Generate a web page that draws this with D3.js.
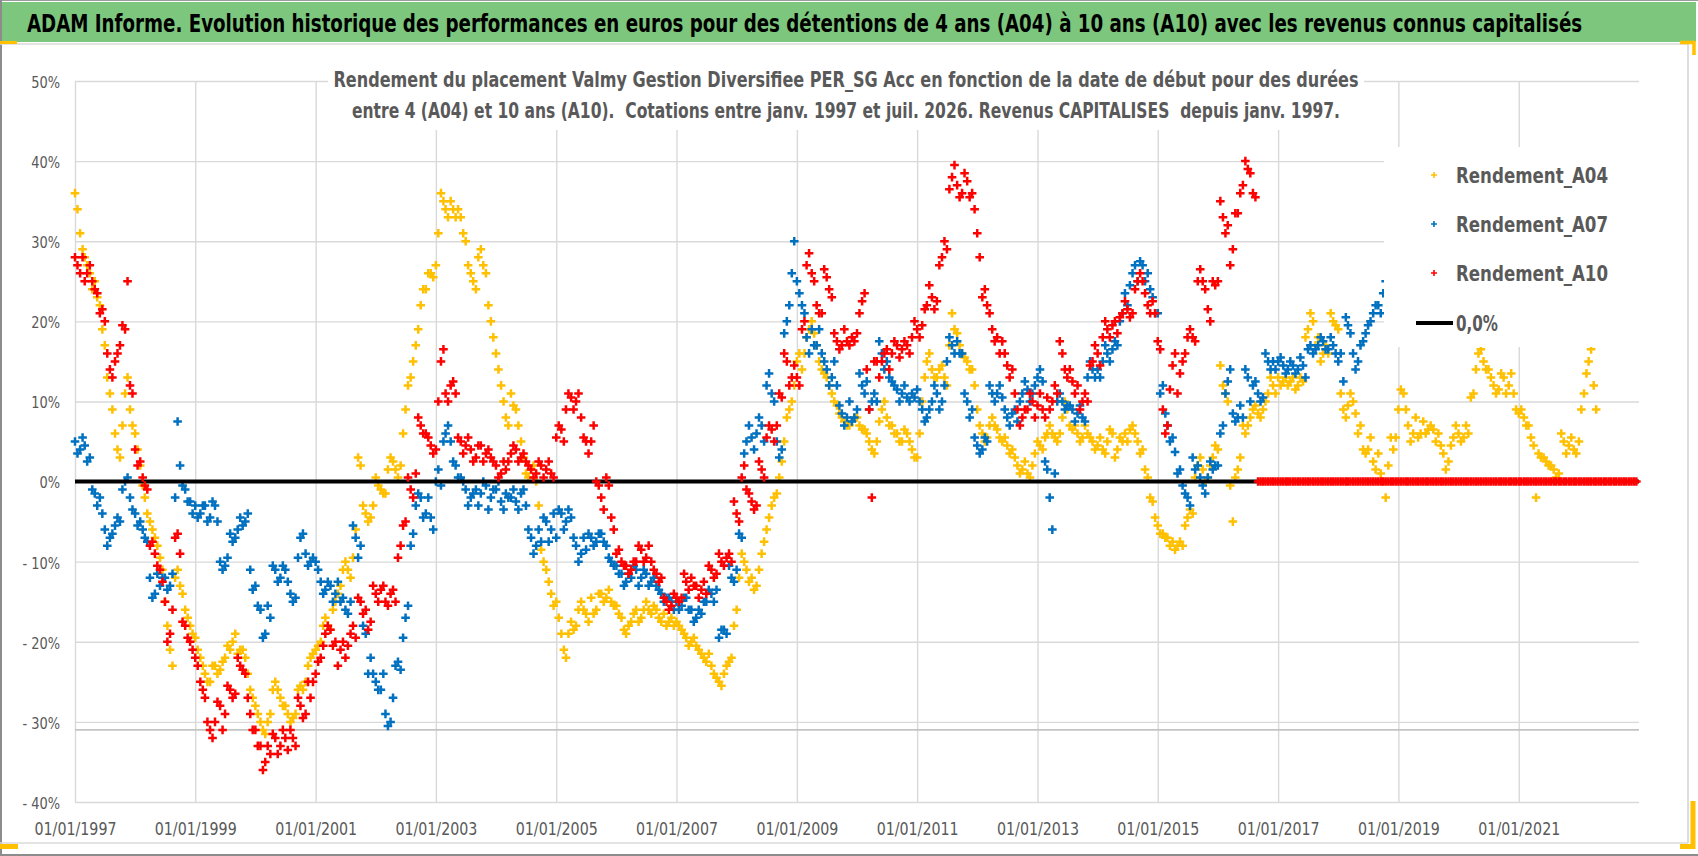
<!DOCTYPE html>
<html><head><meta charset="utf-8">
<script src="https://cdn.jsdelivr.net/npm/d3@7"></script>
<style>
body{margin:0;background:#fff}
svg{display:block}
text{font-family:"Liberation Sans Narrow","DejaVu Sans Condensed","Liberation Sans",Arial,sans-serif}
</style>
</head><body>
<svg id="chart" width="1698" height="856"></svg>
<script>
// ---------------- texts ----------------
const titleText = "ADAM Informe. Evolution historique des performances en euros pour des détentions de 4 ans (A04) à 10 ans (A10) avec les revenus connus capitalisés";
const subtitleLines = [
  "Rendement du placement Valmy Gestion Diversifiee PER_SG Acc en fonction de la date de début pour des durées",
  "entre 4 (A04) et 10 ans (A10).  Cotations entre janv. 1997 et juil. 2026. Revenus CAPITALISES  depuis janv. 1997."
];
const seriesNames = ["Rendement_A04", "Rendement_A07", "Rendement_A10"];
const zeroLabel = "0,0%";

// ---------------- data (values in %, one row per year, first = Jan 1997) ----------------
// *_start : observations at the start of each month ; *_mid : observations at mid-month
const firstYear = 1997;
const A04_start = [
  36, 31, 28, 26, 25, 22, 17, 11, 6, 3, 11, 9,
  6, 2, -2, -5, -7, -9.5, -15, -21, -12, -13, -16, -18,
  -19.5, -22, -24, -25, -23, -23.5, -22, -21, -19, -21, -22, -26,
  -28, -30, -31.5, -29, -25, -27, -28, -30, -29, -25.5, -25, -22,
  -21, -20, -17, -18.5, -15, -13, -10, -12, -6, 2, -4, -4.5,
  0.5, -1, -1.5, 3, 1.5, 2, 9, 13, 17, 22, 24, 26,
  27, 36, 34, 35, 33, 33, 30, 26, 24, 29, 26, 20,
  16, 12, 8, 11, 9, 5, 1, 1.5, 0, -8.5, -11, -14,
  -15, -19, -22, -17.5, -18, -15, -16.5, -14.5, -16, -14, -14.5, -15,
  -15.5, -17, -19, -17.5, -16, -17, -15, -16.5, -16, -17.5, -18, -17,
  -17.5, -18.5, -19.5, -20, -20.5, -21.5, -22.5, -23, -24.5, -25.5, -23, -22,
  -16, -9, -11, -12, -13, -9, -6, -3, -1.5, 2.5, 8, 10,
  15, 14, 18, 20, 17, 14, 13, 11, 9.5, 8, 7, 7.5,
  8, 6.5, 6, 4, 5, 9, 8, 7, 6, 5, 6, 4,
  3, 10, 15, 14, 13, 14.5, 12, 21, 18.5, 16, 15, 14,
  9, 6, 5.5, 8, 6.5, 5, 4.5, 4, 2, 1.5, 1, 2,
  5, 4, 6, 6, 5, 8, 9, 6.5, 6, 5.5, 6, 5,
  4.5, 4, 5, 6, 4, 5, 5, 7, 5, 4, 0.5, -2.5,
  -5.5, -6.5, -7, -7.5, -8, -8, -4.5, -4, 2, 1.5, 0.5, 3,
  4, 12, 10, -5, 1.5, 7, 7, 9, 8.5, 9, 11, 12,
  13, 12.5, 12, 13, 12, 12.5, 19, 20, 18, 16, 16, 20,
  19, 9, 9.5, 10, 6, 4, 4, 2.5, 3.5, 0, 2, 4,
  9, 11, 7, 6, 5.5, 7.5, 6.5, 6.5, 6, 3.5, 2.5, 5.5,
  6, 5.5, 6, 11, 16, 15, 14, 12, 11.5, 13, 12, 11,
  8.5, 8, 7, 4.5, 3.5, 3, 2, 1.5, 1, 5, 4.5, 4,
  5, 11, 15, 12
];
const A04_mid = [
  34, 29, 27, 24, 23, 19, 13, 9, 4, 7, 13, 7,
  4, -0.5, -4, -6, -8, -11, -18, -23, -11, -14, -17, -19,
  -21, -23, -25, -23, -24, -22.5, -20.5, -20, -21.5, -21, -24, -27,
  -29, -31, -30, -26, -26, -28, -29, -29.5, -26, -26, -23, -21.5,
  -20.5, -18, -18, -16, -14, -11, -11, -9.5, 3, -3, -5, -3,
  -0.5, -1.5, 1.5, 2.5, 0.5, 6, 12, 15, 19, 24, 26, 25.5,
  31, 35, 33, 34, 34, 31, 27, 25, 28, 27, 22, 18,
  14, 10, 7, 9.5, 7, 3, 0.5, 2, -3, -10, -12.5, -15.5,
  -17, -21, -19, -18.5, -16, -16, -17.5, -16.5, -14, -15, -13.5, -15.5,
  -16.5, -18.5, -18, -16.5, -17.5, -16, -16, -15.5, -17, -16.5, -17.5, -18,
  -18, -19, -20.5, -19.5, -21, -22, -21.5, -24, -25, -24, -22.5, -18,
  -12, -10, -12.5, -13.5, -11, -7.5, -4.5, -2, 0.5, 5, 9, 12,
  16, 16, 19, 18.5, 15, 13.5, 12, 10, 8.5, 7.5, 7, 8,
  7, 6.5, 5, 3.5, 7.5, 10, 7, 6, 5, 6.5, 5, 3,
  6, 13, 16, 13, 14, 13, 17, 19, 17, 15.5, 14, 12,
  7, 5, 7, 7, 5.5, 5.5, 3.5, 3, 1, 2.5, 0.5, 3.5,
  4.5, 5.5, 7, 5.5, 6, 10, 7, 7, 5, 7, 5.5, 4,
  5.5, 3.5, 6.5, 3, 5.5, 6, 6.5, 6, 3.5, 1.5, -2, -4.5,
  -6.5, -7, -8, -8.5, -7.5, -5.5, -3.5, 0.5, 3, 0, 2, 4.5,
  14.5, 11, -0.5, 0.5, 3, 6, 8, 9.5, 8, 10, 13, 11,
  12, 13, 12.5, 11.5, 13, 18, 21, 17, 15, 17, 21, 19.5,
  11, 8, 11, 8.5, 7, 3.5, 5.5, 1.5, 1, -2, 5.5, 5.5,
  11.5, 9, 5, 8, 6, 6, 7, 5, 4.5, 1.5, 4.5, 7,
  5, 7, 10.5, 14, 16.5, 14, 13, 11, 13.5, 11, 13.5, 9,
  9, 7, 5.5, -2, 3, 2.5, 2, 0.5, 6, 3.5, 5.5, 3.5,
  9, 13.5, 16.5, 9
];
const A07_start = [
  5, 4, 4.5, 3, -1.5, -2, -6, -7, -5.5, -5, 0, -2,
  -4, -5, -7, -12, -14, -13, -12, -13, -2, 2, -1, -2.5,
  -3, -4, -3, -4.5, -3, -10, -10.5, -6.5, -7, -4.5, -5, -11,
  -13, -16, -19, -17, -11, -12, -11, -14, -14.5, -7, -9, -10,
  -10, -12.5, -13.5, -13, -14, -15, -16, -15, -7, -8, -19, -22,
  -25, -26, -29, -30, -23, -23.5, -17, -8, -3, -2, -4, -4.5,
  0, -0.5, 6, 5, 2, 0.5, -1, -2, -1, -1.5, -0.5, -2,
  -1, -2.5, -1.5, -2, -2.5, -1.5, -3, -7, -8, -7.5, -5, -6,
  -7, -4, -5, -4.5, -8, -9, -8.5, -7, -7.5, -6.5, -8, -10,
  -10.5, -11.5, -12.5, -12, -11, -12, -11.5, -12.5, -13, -14, -14.5, -15,
  -15, -15.5, -14.5, -16, -17, -16.5, -15, -14, -13.5, -18.5, -19, -12,
  -11, -7, 5, 5.5, 6, 7, 12, 11, 5, 4, 20, 26,
  25, 22, 18, 19, 17, 16, 14, 13, 12, 8.5, 8, 7.5,
  9, 12, 12.5, 10, 10, 16, 15, 12.5, 11.5, 11, 10.5, 11,
  11.5, 9, 8, 10, 11, 10, 15, 17, 17.5, 16, 10, 9,
  4.5, 4, 5, 11, 11, 10.5, 8, 8.5, 7.5, 11, 11.5, 11,
  13, 12.5, 1.5, -6, 10, 10, 9.5, 9, 8.5, 8, 13, 14,
  14, 15, 16, 16.5, 17, 21, 22, 26, 25, 27, 26, 23,
  21, 12, 7, 5.5, 1, -0.5, -2, 3, 2, -0.5, 0.5, 1.5,
  2, 7, 12.5, 8.5, 8, 8, 13, 12, 11, 10.5, 15, 15,
  15, 14.5, 14, 14.5, 14, 14.5, 16.5, 16, 17, 17.5, 16.5, 17,
  15, 12.5, 19.5, 16, 15, 17.5, 19.5, 21, 22, 23.5, 27
];
const A07_mid = [
  3.5, 5.5, 2.5, -1, -3, -4, -8, -6.5, -4.5, -1, 0.5, -3.5,
  -5.5, -6, -7.5, -14.5, -11.5, -12, -13.5, -11.5, 7.5, -0.5, -2.5, -4,
  -4.5, -3, -5, -2.5, -5, -11, -9.5, -7.5, -6, -5.5, -4, -13.5,
  -15.5, -19.5, -15.5, -10.5, -12.5, -10.5, -12.5, -15, -9.5, -6.5, -10.5, -9.5,
  -11, -14, -12.5, -15, -12.5, -14.5, -16.5, -5.5, -9.5, -18, -24, -24,
  -26, -24, -30.5, -27, -22.5, -19.5, -15.5, -6.5, -1.5, -4.5, -2, -6,
  1.5, 5, 7, 2.5, 0.5, 0, -3, -1.5, -3, 0, -3.5, -1,
  0, -3.5, -2, -1, -3.5, -1, -6, -9, -6, -4.5, -7.5, -4,
  -3.5, -6, -3.5, -7, -10, -7, -6.5, -8, -6.5, -7.5, -9.5, -10.5,
  -11.5, -13, -11.5, -10.5, -13, -11, -13, -12, -13.5, -15, -14.5, -16,
  -16, -14.5, -16, -17.5, -16, -15, -13.5, -15, -19.5, -18.5, -10.5, -12.5,
  -6.5, 3.5, 7, 4, 8, 5, 13.5, 10, 3, 18.5, 22, 30,
  23.5, 21, 16, 17, 19, 15, 12, 15, 9.5, 7, 10, 8,
  13.5, 11, 9, 11, 17.5, 14, 13, 12, 10, 12, 10, 10.5,
  10, 7.5, 9, 12, 9, 12, 18, 16, 16, 11, 8, 5.5,
  3.5, 5.5, 12, 10, 12, 9, 7, 9, 10, 12.5, 10, 12,
  14, 2.5, -2, 1, 11, 9, 9.5, 7.5, 9.5, 7.5, 15, 13,
  13, 17, 15, 17.5, 20, 23.5, 24.5, 27, 27.5, 25, 24, 21,
  11, 8.5, 5, 3.7, 1.5, -1.5, -3, 1.5, 0.5, -1.5, 2.5, 2,
  6, 11, 14, 7.5, 9.5, 14, 10, 12.5, 10, 16, 14, 14,
  15.5, 13.5, 15, 13.5, 15.5, 13, 17, 16.5, 18, 16.5, 18, 16,
  16, 20.5, 18.5, 14, 17, 18.5, 20, 22, 21, 25
];
const A10_start = [
  28, 26, 25, 27, 24, 21, 20, 14, 15, 17, 19, 12,
  4, 2.5, -0.5, -8, -9, -11, -15, -19, -7, -9, -18, -20,
  -22, -25, -27, -31, -30, -28, -29, -26, -26.5, -23, -24, -29,
  -31, -33, -35, -34, -32, -33, -32, -31, -33, -28, -29, -27,
  -24, -22, -19, -18.5, -20, -21, -22, -19, -19.5, -15, -16, -17.5,
  -14, -13.5, -15, -14, -15, -8, -5, -1, 1, 7, 6, 4.5,
  4, 15, 11, 12, 11, 5, 4.5, 4, 3, 4.5, 3.5, 3,
  2, 1, 1.5, 3.5, 4, 3, 2.5, 1.5, 1, 2, 1.5, 1,
  5.5, 6.5, 9, 10.5, 10, 8, 5, 5, 0, -2, 0.5, -4.5,
  -9, -10, -10.5, -11, -10, -8.5, -9.5, -10, -11.5, -12, -15, -15.5,
  -14.5, -14.5, -12.5, -12, -13, -13.5, -14, -11, -11.5, -10, -9.5, -10,
  -4, 0.5, -1, -2.5, -3, 1.5, 5.5, 6.5, 7, 10.5, 15, 13,
  13, 19, 27, 26, 22, 21, 25.5, 23, 17.5, 17, 17.5, 18,
  18.5, 22.5, 14, -2, 15, 15, 16.5, 16, 17, 16.5, 17, 18,
  19, 19.5, 22, 23, 22.5, 28, 29, 38, 37, 36, 37.5, 36,
  31, 23, 22, 19, 18, 17.5, 14.5, 14, 9, 8, 9, 10,
  9.5, 9, 10.5, 10, 11, 16, 13, 12.5, 12, 10, 10, 15,
  16, 18, 19, 19.5, 18.5, 21, 21.5, 21, 25, 25, 22, 22.5,
  17.5, 9, 7, 14.5, 11, 15, 18, 18, 25, 25, 21.5, 25,
  25, 33, 32, 29, 33.5, 37, 39, 36, 0, 0, 0, 0,
  0, 0, 0, 0, 0, 0, 0, 0, 0, 0, 0, 0,
  0, 0, 0, 0, 0, 0, 0, 0, 0, 0, 0, 0,
  0, 0, 0, 0, 0, 0, 0, 0, 0, 0, 0, 0,
  0, 0, 0, 0, 0, 0, 0, 0, 0, 0, 0, 0,
  0, 0, 0, 0, 0, 0, 0, 0, 0, 0, 0, 0,
  0, 0, 0, 0, 0, 0, 0, 0, 0, 0, 0, 0
];
const A10_mid = [
  27, 28, 26, 25, 23.5, 21.5, 16, 13, 16, 19.5, 25, 11,
  2, 0.5, -1, -7.5, -10.5, -12.5, -20, -16, -6.5, -17.5, -19.5, -21,
  -23, -26, -30, -32, -27.5, -31, -25.5, -27, -22, -23.5, -27, -31,
  -33, -36, -33, -31.5, -34, -31, -33.5, -32, -27, -29.5, -25, -25,
  -22.5, -20.5, -18, -20.5, -23, -20, -20.5, -18, -14.5, -16.5, -18.5, -13,
  -15, -13, -15.5, -13.5, -9.5, -5.5, 0.5, -2, 8, 6, 5.5, 3.5,
  10, 16.5, 10, 12.5, 5.5, 3.5, 5.5, 2.5, 4.5, 2.5, 4, 2.5,
  0.5, 2.5, 2.5, 4.5, 2.5, 3.5, 2, 0.5, 2.5, 0.5, 2.5, 0.5,
  7, 5, 11, 9, 11, 5.5, 3.5, 7, -0.5, -3.5, -0.5, -6,
  -8.5, -10.5, -11.5, -10, -8, -10, -8, -11, -12.5, -14.5, -16, -14,
  -15, -11.5, -13.5, -13, -14.5, -12.5, -10.5, -12, -9, -10.5, -9, -2.5,
  -5, 2, -1.5, -3.5, 2.5, 0.5, 7, 5, 11, 16, 12, 14.5,
  12, 20, 28.5, 25, 21, 26.5, 24, 18.5, 16.5, 19, 17, 17.5,
  21, 23.5, 9, 15, 13, 16, 14, 17.5, 15.5, 17.5, 16, 20,
  18, 21.5, 24.5, 21.5, 27, 30, 36.5, 39.5, 35.5, 38.5, 35.5, 34,
  28, 24, 21, 17.5, 16, 16, 13, 11, 7, 9, 11, 8,
  11, 8, 9, 12, 17.5, 14, 14, 11, 9, 11, 14.5, 17,
  14.5, 20, 18, 20, 20.5, 22.5, 20.5, 24, 26, 23.5, 21, 21,
  16.5, 6, 11.5, 16, 13.5, 16, 19, 17.5, 26.5, 24, 20, 24.5,
  35, 31, 27, 33.5, 36, 40, 38.5, 35.5, 0, 0, 0, 0,
  0, 0, 0, 0, 0, 0, 0, 0, 0, 0, 0, 0,
  0, 0, 0, 0, 0, 0, 0, 0, 0, 0, 0, 0,
  0, 0, 0, 0, 0, 0, 0, 0, 0, 0, 0, 0,
  0, 0, 0, 0, 0, 0, 0, 0, 0, 0, 0, 0,
  0, 0, 0, 0, 0, 0, 0, 0, 0, 0, 0, 0,
  0, 0, 0, 0, 0, 0, 0, 0, 0, 0, 0, 0
];
const seriesColors = ["#FFC000", "#0070C0", "#FF0000"];

// axes
const xTickYears = [1997, 1999, 2001, 2003, 2005, 2007, 2009, 2011, 2013, 2015, 2017, 2019, 2021];
const xDomainYears = [1997, 2023];
const yTicks = [50, 40, 30, 20, 10, 0, -10, -20, -30, -40];
const yTickLabels = ["50%", "40%", "30%", "20%", "10%", "0%", "- 10%", "- 20%", "- 30%", "- 40%"];
const zeroValue = 0;
const refLineValue = -31;

// ---------------- drawing ----------------
const svg = d3.select("#chart");
const W = 1698, H = 856;
const plot = {left: 75, right: 1639, top: 81, bottom: 802};

const x = d3.scaleTime()
  .domain(xDomainYears.map(v => new Date(v, 0, 1)))
  .range([plot.left, plot.right]);
const y = d3.scaleLinear()
  .domain([d3.min(yTicks), d3.max(yTicks)])
  .range([plot.bottom, plot.top]);

function condense(sel, f) {
  sel.each(function () {
    const L = this.getComputedTextLength();
    d3.select(this).attr("textLength", L * f).attr("lengthAdjust", "spacingAndGlyphs");
  });
}
function fit(sel, w) {
  sel.attr("textLength", w).attr("lengthAdjust", "spacingAndGlyphs");
}

svg.append("rect").attr("width", W).attr("height", H).attr("fill", "#fff");

// gridlines
const gridY = svg.append("g").attr("transform", `translate(${plot.left},0)`)
  .call(d3.axisLeft(y).tickValues(yTicks).tickSize(-(plot.right - plot.left)).tickFormat(""));
gridY.select(".domain").remove();
gridY.selectAll("line").attr("stroke", "#D9D9D9").attr("stroke-width", 1.4);

const gridX = svg.append("g").attr("transform", `translate(0,${plot.bottom})`)
  .call(d3.axisBottom(x).tickValues(xTickYears.map(v => new Date(v, 0, 1)))
    .tickSize(-(plot.bottom - plot.top)).tickFormat(""));
gridX.select(".domain").remove();
gridX.selectAll("line").attr("stroke", "#D9D9D9").attr("stroke-width", 1.4);

// reference line
svg.append("line")
  .attr("x1", plot.left).attr("x2", plot.right)
  .attr("y1", y(refLineValue)).attr("y2", y(refLineValue))
  .attr("stroke", "#C4C4C4").attr("stroke-width", 1.6);

// tick labels
const yAx = svg.append("g").attr("transform", `translate(${plot.left},0)`)
  .call(d3.axisLeft(y).tickValues(yTicks).tickSize(0).tickPadding(15)
    .tickFormat((d, i) => yTickLabels[i]));
yAx.select(".domain").remove();
yAx.selectAll("text").attr("font-size", 16).attr("fill", "#595959")
  .attr("font-family", "Liberation Sans, Arial, sans-serif").attr("dy", "0.4em");
condense(yAx.selectAll("text"), 0.9);

const xAx = svg.append("g").attr("transform", `translate(0,${plot.bottom})`)
  .call(d3.axisBottom(x).tickValues(xTickYears.map(v => new Date(v, 0, 1)))
    .tickSize(0).tickPadding(21).tickFormat(d3.timeFormat("%d/%m/%Y")));
xAx.select(".domain").remove();
xAx.selectAll("text").attr("font-size", 17).attr("fill", "#595959")
  .attr("font-family", "Liberation Sans, Arial, sans-serif");
condense(xAx.selectAll("text"), 0.93);

// series
const plusPath = "M-4.3,0H4.3M0,-4.3V4.3";
function toPoints(startArr, midArr) {
  const a = startArr.map((v, i) => ({date: new Date(firstYear, i, 1), v}));
  const b = midArr.map((v, i) => ({date: new Date(firstYear, i, 16), v}));
  return a.concat(b).filter(d => d.v != null).sort((p, q) => p.date - q.date);
}
function drawSeries(startArr, midArr, color) {
  svg.append("g").selectAll("path").data(toPoints(startArr, midArr)).join("path")
    .attr("d", plusPath)
    .attr("transform", d => `translate(${x(d.date)},${y(d.v)})`)
    .attr("stroke", color).attr("stroke-width", 2.5).attr("fill", "none");
}
drawSeries(A04_start, A04_mid, seriesColors[0]);
drawSeries(A07_start, A07_mid, seriesColors[1]);
svg.append("line")
  .attr("x1", plot.left).attr("x2", plot.right)
  .attr("y1", y(zeroValue)).attr("y2", y(zeroValue))
  .attr("stroke", "#000").attr("stroke-width", 4);
drawSeries(A10_start, A10_mid, seriesColors[2]);

// subtitle
svg.append("rect").attr("x", 328).attr("y", 60).attr("width", 1036).attr("height", 70).attr("fill", "#fff");
const subW = [1025, 988];
const subBase = [87, 118];
subtitleLines.forEach((t, i) => {
  svg.append("text").attr("x", 846).attr("y", subBase[i])
    .attr("text-anchor", "middle").attr("font-size", 21).attr("font-weight", "bold")
    .attr("fill", "#595959").style("white-space", "pre").text(t)
    .call(fit, subW[i]);
});

// legend
svg.append("rect").attr("x", 1384).attr("y", 147).attr("width", 257).attr("height", 200).attr("fill", "#fff");
const legRows = [175, 224, 273, 323];
seriesNames.forEach((n, i) => {
  svg.append("path").attr("d", "M-3,0H3M0,-3V3")
    .attr("transform", `translate(1434,${legRows[i]})`)
    .attr("stroke", seriesColors[i]).attr("stroke-width", 1.6).attr("fill", "none");
  svg.append("text").attr("x", 1456).attr("y", legRows[i] + 8)
    .attr("font-size", 22).attr("font-weight", "bold").attr("fill", "#595959")
    .text(n).call(fit, 152);
});
svg.append("line").attr("x1", 1416).attr("x2", 1453)
  .attr("y1", legRows[3]).attr("y2", legRows[3]).attr("stroke", "#000").attr("stroke-width", 4);
svg.append("text").attr("x", 1456).attr("y", legRows[3] + 8)
  .attr("font-size", 22).attr("font-weight", "bold").attr("fill", "#595959")
  .text(zeroLabel).call(fit, 42);

// title bar & frame
svg.append("rect").attr("x", 2).attr("y", 2).attr("width", 1694).attr("height", 40).attr("fill", "#7DC67D");
const titleEl = svg.append("text").attr("x", 0).attr("y", 0).attr("font-size", 24).attr("font-weight", "bold")
  .attr("fill", "#000").text(titleText);
const titleNat = titleEl.node().getComputedTextLength();
titleEl.attr("transform", `translate(27,32) scale(${1556 / titleNat},1)`);
svg.append("line").attr("x1", 0).attr("x2", W).attr("y1", 0.5).attr("y2", 0.5).attr("stroke", "#9A9A9A");
svg.append("line").attr("x1", 1).attr("x2", 1).attr("y1", 0).attr("y2", H).attr("stroke", "#8C8C8C").attr("stroke-width", 2);
svg.append("line").attr("x1", 0).attr("x2", 1688).attr("y1", 44).attr("y2", 44).attr("stroke", "#DADADA").attr("stroke-width", 1.5);
svg.append("line").attr("x1", 1688).attr("x2", 1688).attr("y1", 44).attr("y2", 843).attr("stroke", "#D0D0D0").attr("stroke-width", 1.5);
svg.append("line").attr("x1", 0).attr("x2", 1688).attr("y1", 843).attr("y2", 843).attr("stroke", "#DADADA").attr("stroke-width", 1.5);
svg.append("line").attr("x1", 0).attr("x2", W).attr("y1", 855).attr("y2", 855).attr("stroke", "#8C8C8C").attr("stroke-width", 2);
// yellow corner marks
const yel = "#FFC000";
svg.append("rect").attr("x", 0).attr("y", 41).attr("width", 17).attr("height", 3).attr("fill", yel);
svg.append("rect").attr("x", 0).attr("y", 844).attr("width", 18).attr("height", 5).attr("fill", yel);
svg.append("path").attr("d", "M1680,42.5H1694V55").attr("stroke", yel).attr("stroke-width", 3.5).attr("fill", "none");
svg.append("path").attr("d", "M1693,801V846.5H1680").attr("stroke", yel).attr("stroke-width", 5).attr("fill", "none");
</script>
</body></html>
